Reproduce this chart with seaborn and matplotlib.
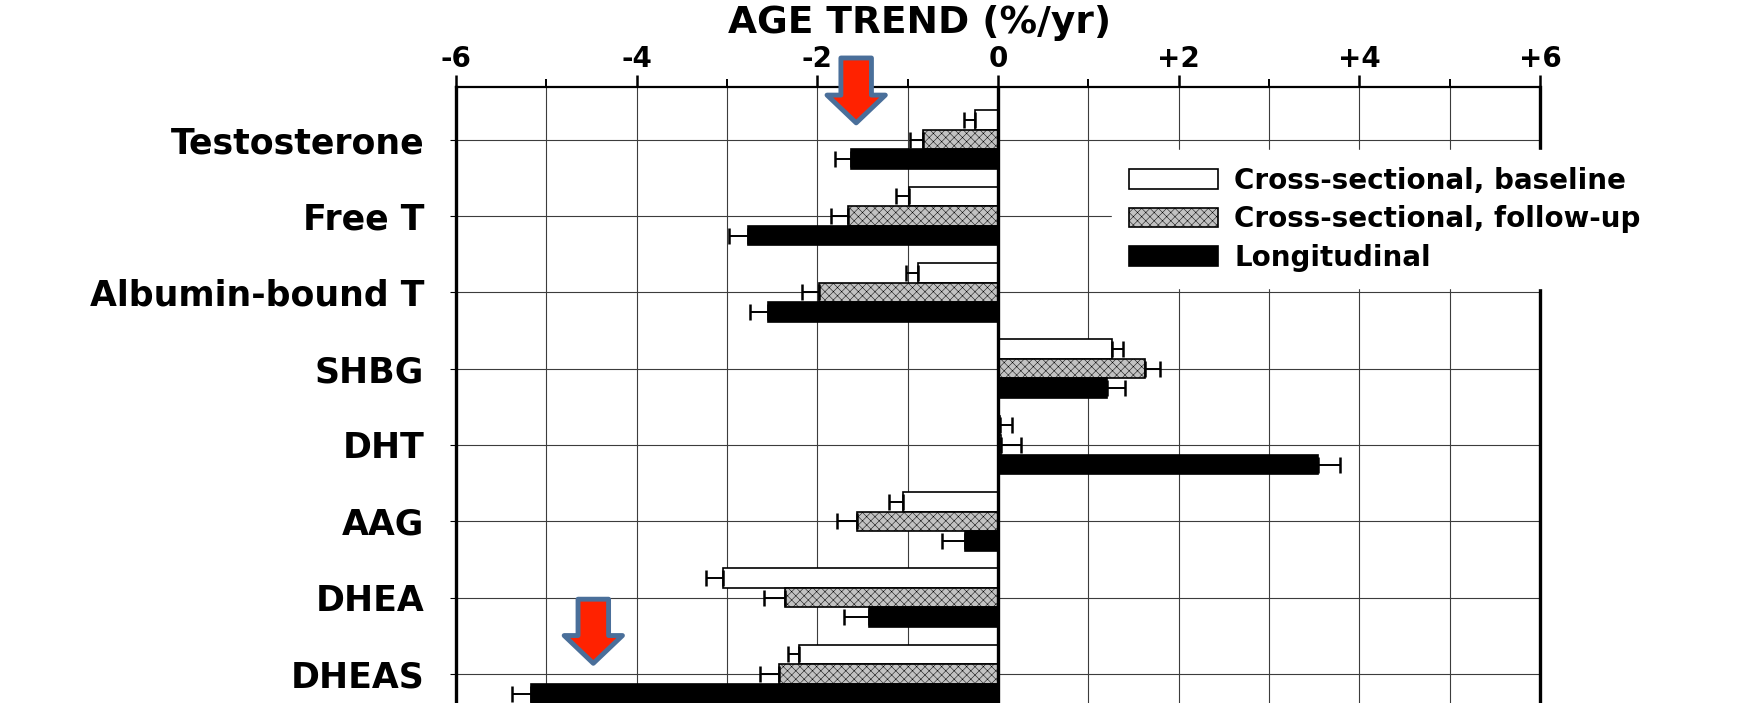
import numpy as np
import pandas as pd
import matplotlib
matplotlib.use("Agg")
import matplotlib.pyplot as plt
import seaborn as sns
from matplotlib.patches import Patch

sns.set_style("white")
plt.rcParams['font.family'] = ['DejaVu Sans']
plt.rcParams['hatch.linewidth'] = 0.35
plt.rcParams['text.color'] = 'black'
plt.rcParams['xtick.color'] = 'black'
plt.rcParams['ytick.color'] = 'black'

hormones = ["Testosterone", "Free T", "Albumin-bound T", "SHBG", "DHT", "AAG", "DHEA", "DHEAS"]
groups = ["Cross-sectional, baseline", "Cross-sectional, follow-up", "Longitudinal"]

# age trend in %/yr
baseline = [-0.25, -0.98, -0.89, 1.26, 0.02, -1.05, -3.04, -2.20]
followup = [-0.83, -1.66, -1.98, 1.63, 0.03, -1.56, -2.36, -2.42]
longitudinal = [-1.63, -2.77, -2.55, 1.21, 3.54, -0.37, -1.43, -5.17]

# error bar lengths (one-sided, pointing away from zero)
baseline_err = [0.13, 0.15, 0.13, 0.12, 0.14, 0.16, 0.19, 0.13]
followup_err = [0.14, 0.19, 0.19, 0.16, 0.22, 0.22, 0.23, 0.21]
longitudinal_err = [0.17, 0.21, 0.20, 0.20, 0.25, 0.25, 0.27, 0.21]

tick_vals = [-6, -4, -2, 0, 2, 4, 6]
tick_labels = ["-6", "-4", "-2", "0", "+2", "+4", "+6"]

# arrows: (x position, tail y, tip y) in data units
arrows = [(-1.57, -1.07, -0.22), (-4.48, 6.02, 6.86)]

values = [baseline, followup, longitudinal]
errs = [baseline_err, followup_err, longitudinal_err]

df = pd.DataFrame({
    "hormone": hormones * 3,
    "group": np.repeat(groups, len(hormones)),
    "trend": baseline + followup + longitudinal,
})

colors = ["white", "#c2c2c2", "black"]

fig = plt.figure(figsize=(17.53, 7.03), dpi=100)
ax = fig.add_axes([456 / 1753, 0.0, 1084 / 1753, 1 - 87 / 703])

sns.barplot(data=df, x="trend", y="hormone", hue="group", orient="h",
            palette=colors, saturation=1, edgecolor="black", linewidth=1.2,
            width=0.77, errorbar=None, legend=False, ax=ax, zorder=2)

for p in ax.containers[1]:
    p.set_hatch("xxxx")
    if hasattr(p, "set_hatchcolor"):
        p.set_hatchcolor("#6a6a6a")

for cont, vals, ee in zip(ax.containers, values, errs):
    yc = [p.get_y() + p.get_height() / 2 for p in cont]
    vals = np.array(vals)
    ee = np.array(ee)
    lo = np.where(vals < 0, ee, 0)
    hi = np.where(vals >= 0, ee, 0)
    ax.errorbar(vals, yc, xerr=[lo, hi], fmt="none", ecolor="black",
                elinewidth=1.4, capsize=6, capthick=1.8, zorder=3)

ax.axvline(0, color="black", lw=2.4, zorder=4)

ax.set_xlim(-6, 6)
ax.set_ylim(7.38, -0.69)
ax.xaxis.tick_top()
ax.set_xticks(tick_vals)
ax.set_xticklabels(tick_labels, fontsize=20, fontweight="bold")
ax.set_xticks(range(-5, 6, 2), minor=True)
ax.tick_params(axis="x", which="major", direction="out", length=9, width=1.8, pad=1, top=True, bottom=False)
ax.tick_params(axis="x", which="minor", direction="out", length=6, width=1.4, top=True, bottom=False)
ax.tick_params(axis="y", length=4, width=0.8, pad=19, left=True)
ax.set_yticks(range(len(hormones)))
ax.set_yticklabels(hormones, fontsize=25, fontweight="bold")
ax.set_xlabel("")
ax.set_ylabel("")

ax.grid(True, which="both", axis="x", color="#3c3c3c", lw=0.8)
ax.grid(True, which="major", axis="y", color="#3c3c3c", lw=0.8)
ax.set_axisbelow(True)

ax.spines["left"].set_linewidth(2.4)
ax.spines["right"].set_linewidth(2.4)
ax.spines["top"].set_linewidth(1.6)
ax.spines["bottom"].set_visible(False)
for s in ["left", "right", "top"]:
    ax.spines[s].set_color("black")

fig.text(920 / 1753, 1 - 5 / 703, "AGE TREND (%/yr)", ha="center", va="top",
         fontsize=27, fontweight="bold")

handles = [
    Patch(facecolor="white", edgecolor="black", lw=1.2),
    Patch(facecolor="#c2c2c2", edgecolor="black", lw=1.2, hatch="xxxx"),
    Patch(facecolor="black", edgecolor="black", lw=1.2),
]
leg = ax.legend(handles, groups, loc="upper left", bbox_to_anchor=(1112 / 1753, 1 - 150 / 703),
                bbox_transform=fig.transFigure, frameon=True, fancybox=False,
                framealpha=1, edgecolor="white", facecolor="white",
                prop={"size": 20, "weight": "bold"}, handlelength=3.2, handleheight=0.7,
                handletextpad=0.6, labelspacing=0.38, borderpad=0.6, borderaxespad=0)
leg.set_zorder(6)

for x, y0, y1 in arrows:
    ax.annotate("", xy=(x, y1), xytext=(x, y0), annotation_clip=False,
                arrowprops=dict(arrowstyle="simple,head_length=20,head_width=42,tail_width=22",
                                mutation_scale=1, fc="#ff2200", ec="#4a6f9a", lw=3.5,
                                shrinkA=0, shrinkB=0, clip_on=False),
                zorder=8)

fig.savefig("out.png", dpi=100)
